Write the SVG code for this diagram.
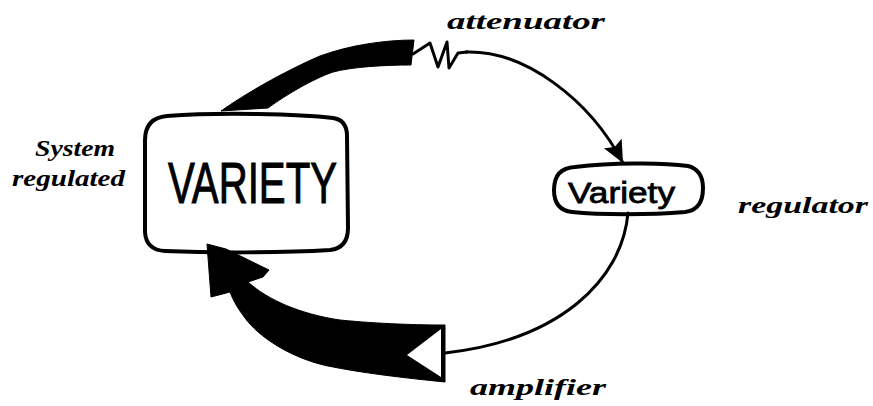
<svg xmlns="http://www.w3.org/2000/svg" width="873" height="406" viewBox="0 0 873 406">
  <style>
    .box { fill: #ffffff; stroke: #000000; stroke-width: 4; stroke-linejoin: round; }
    .thin { fill: none; stroke: #000000; stroke-width: 3; stroke-linecap: round; stroke-linejoin: round; }
    .band { fill: #000000; stroke: #000000; stroke-width: 1; stroke-linejoin: round; }
    .label { font-family: "Liberation Serif", "DejaVu Serif", serif; font-style: italic; font-weight: bold; font-size: 24px; fill: #000000; }
    .big { font-family: "Liberation Sans", "DejaVu Sans", sans-serif; font-size: 57px; fill: #000000; stroke: #000000; stroke-width: 1; }
    .small { font-family: "Liberation Sans", "DejaVu Sans", sans-serif; font-size: 30px; fill: #000000; stroke: #000000; stroke-width: 0.8; }
  </style>
  <defs>
    <marker id="head" markerUnits="userSpaceOnUse" markerWidth="24" markerHeight="22" refX="22" refY="11" orient="auto">
      <path d="M0,1 L22,11 L0,21 L4,11 Z" fill="#000000"/>
    </marker>
  </defs>
  <rect width="873" height="406" fill="#ffffff"/>

  <g id="node-system">
    <path class="box" d="M167,116 C 220,112 300,114 333,118 Q 347,120 347,136 L 348,228 Q 348,248 330,250 C 280,253 210,253 165,251 Q 146,250 145,232 L 145,140 Q 145,118 167,116 Z"/>
    <text class="big" x="168" y="203" textLength="169" lengthAdjust="spacingAndGlyphs">VARIETY</text>
    <text class="label" x="35" y="156" textLength="80" lengthAdjust="spacingAndGlyphs">System</text>
    <text class="label" x="12" y="186" textLength="113" lengthAdjust="spacingAndGlyphs">regulated</text>
  </g>

  <g id="node-regulator">
    <path class="box" d="M575,167 C 610,163 660,162 688,166 Q 703,170 703,188 Q 703,210 685,212 C 650,215 600,215 572,212 Q 554,210 554,190 Q 554,168 575,167 Z"/>
    <text class="small" x="568" y="203" textLength="107" lengthAdjust="spacingAndGlyphs">Variety</text>
    <text class="label" x="738" y="213" textLength="130" lengthAdjust="spacingAndGlyphs">regulator</text>
  </g>

  <g id="connectors">
    <!-- attenuator: thick band from system, zigzag, thin line to regulator -->
    <path class="band" d="M221,111 C 245,94 283,72 320,56 C 350,45 385,40 414,40 L 411,65 C 383,65 352,67 333,72 C 315,78 287,94 268,108 Z"/>
    <polyline class="thin" points="413,54 430,43 438,67 447,42 449,68 458,53 467,52"/>
    <path class="thin" d="M466,52 C 525,50 590,100 623,163" marker-end="url(#head)"/>
    <text class="label" x="447" y="29" textLength="158" lengthAdjust="spacingAndGlyphs">attenuator</text>

    <!-- amplifier: thin line from regulator to amplifier, thick band back to system -->
    <path class="thin" d="M628,213 C 622,280 560,340 445,353"/>
    <path class="band" d="M207,244 L226,249 L269,270 L263,277 L248,282 C 268,300 300,314 340,320 C 380,324 420,325 445,325 L 445,382 C 405,378 362,373 328,366 C 290,358 258,336 245,318 C 238,309 233,300 230,292 L211,297 Z"/>
    <polygon points="441,329 441,377 407,355" fill="#ffffff"/>
    <text class="label" x="470" y="395" textLength="136" lengthAdjust="spacingAndGlyphs">amplifier</text>
  </g>
</svg>
